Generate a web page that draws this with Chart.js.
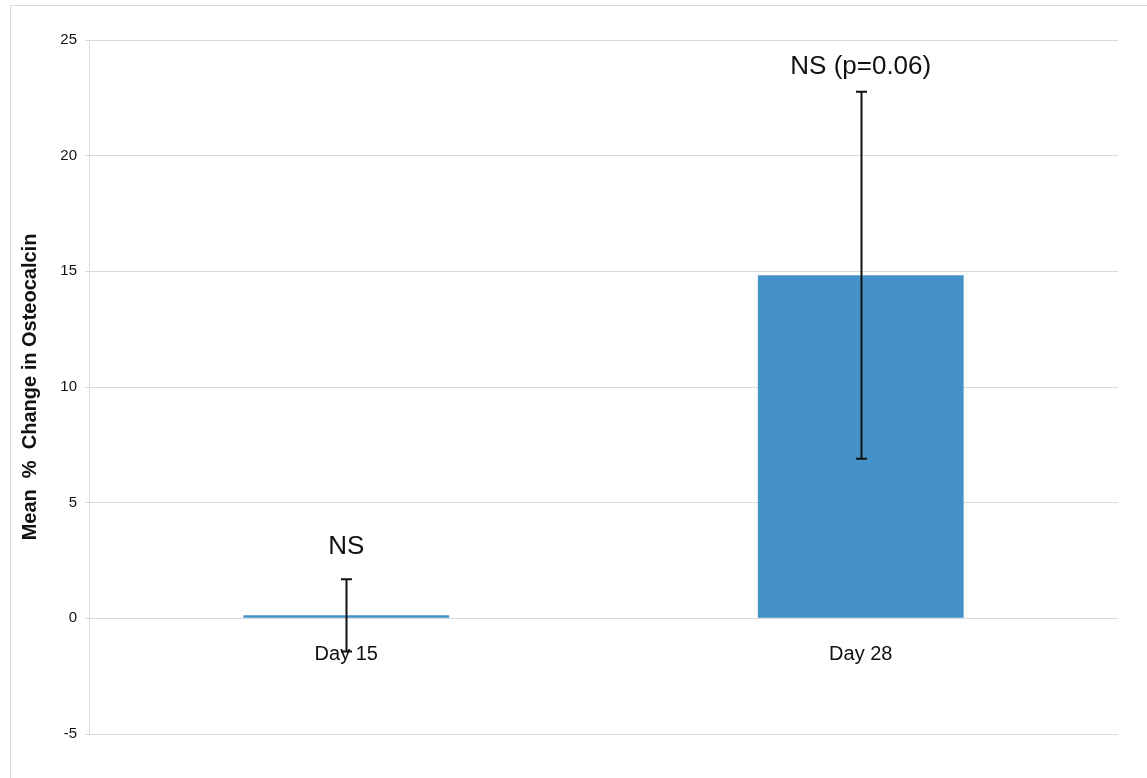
<!DOCTYPE html>
<html>
<head>
<meta charset="utf-8">
<script src="https://cdn.jsdelivr.net/npm/chart.js@4/dist/chart.umd.min.js"></script>
<style>
  html, body { margin: 0; padding: 0; background: #ffffff; overflow: hidden; }
  #frame { position: absolute; left: 10px; top: 5px; width: 1300px; height: 900px; border: 1px solid #d9d9d9; }
  #wrap { position: absolute; left: 0; top: 0; width: 1147px; height: 778px; }
</style>
</head>
<body>
<div id="frame"></div>
<div id="wrap"><canvas id="chart" width="1147" height="778"></canvas></div>
<script>
// Mean % change in osteocalcin by visit
const categories = ['Day 15', 'Day 28'];
const meanChange = [0.13, 14.83];
const errorHalf = [1.56, 7.93];
const noteTexts = ['NS', 'NS (p=0.06)'];
const noteLevels = [3.1, 23.85];
const yTicks = [-5, 0, 5, 10, 15, 20, 25];

// Error bars and significance notes drawn on top of the bars
const errorBarPlugin = {
  id: 'errorBars',
  afterDatasetsDraw(chart) {
    const ctx = chart.ctx;
    const meta = chart.getDatasetMeta(0);
    const y = chart.scales.y;
    ctx.save();
    ctx.strokeStyle = '#111111';
    ctx.lineWidth = 2;
    meta.data.forEach((bar, i) => {
      const x = Math.round(bar.x) + 0.5;
      const top = y.getPixelForValue(meanChange[i] + errorHalf[i]);
      const bot = y.getPixelForValue(meanChange[i] - errorHalf[i]);
      ctx.beginPath();
      ctx.moveTo(x, top);
      ctx.lineTo(x, bot);
      ctx.moveTo(x - 5.5, top);
      ctx.lineTo(x + 5.5, top);
      ctx.moveTo(x - 5.5, bot);
      ctx.lineTo(x + 5.5, bot);
      ctx.stroke();
    });
    ctx.fillStyle = '#111111';
    ctx.font = '26px "Liberation Sans", Arial, sans-serif';
    ctx.textAlign = 'center';
    ctx.textBaseline = 'middle';
    meta.data.forEach((bar, i) => {
      ctx.fillText(noteTexts[i], bar.x, y.getPixelForValue(noteLevels[i]));
    });
    ctx.restore();
  }
};

new Chart(document.getElementById('chart'), {
  type: 'bar',
  data: {
    labels: categories,
    datasets: [{
      data: meanChange,
      backgroundColor: '#4591c9',
      borderWidth: 0,
      barPercentage: 0.4,
      categoryPercentage: 1.0
    }]
  },
  options: {
    responsive: false,
    animation: false,
    events: [],
    layout: { padding: { top: 40, bottom: 44, right: 29, left: 0 } },
    plugins: { legend: { display: false }, tooltip: { enabled: false } },
    scales: {
      x: {
        position: { y: 0 },
        grid: { display: false },
        border: { display: false },
        ticks: {
          color: '#111111',
          padding: 16,
          font: { family: '"Liberation Sans", Arial, sans-serif', size: 20 }
        },
        afterFit(scale) { scale.height = 0; }
      },
      y: {
        min: -5,
        max: 25,
        afterBuildTicks(scale) { scale.ticks = yTicks.map(v => ({ value: v })); },
        grid: { color: '#d9d9d9', lineWidth: 1, tickLength: 4 },
        border: { color: '#d9d9d9' },
        ticks: {
          color: '#111111',
          padding: 8,
          font: { family: '"Liberation Sans", Arial, sans-serif', size: 15 }
        },
        title: {
          display: true,
          text: 'Mean  %  Change in Osteocalcin',
          color: '#111111',
          padding: { top: 18, bottom: 0 },
          font: { family: '"Liberation Sans", Arial, sans-serif', size: 20, weight: 'bold' }
        },
        afterFit(scale) { scale.width = 89; }
      }
    }
  },
  plugins: [errorBarPlugin]
});
</script>
</body>
</html>
